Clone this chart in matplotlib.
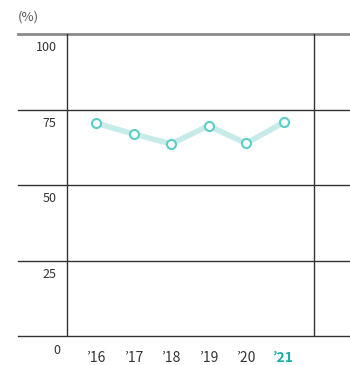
import matplotlib.pyplot as plt

plt.rcParams['font.family'] = ['Noto Sans CJK KR', 'DejaVu Sans']

years = ["\u201916", "\u201917", "\u201918", "\u201919", "\u201920", "\u201921"]
rates = [70.5, 66.9, 63.6, 69.6, 63.8, 70.7]
yticks = [0, 25, 50, 75, 100]

fig = plt.figure(figsize=(3.5, 3.65), dpi=100)
ax = fig.add_axes([18 / 350, 29 / 365, 332 / 350, 302 / 365])
ax.set_xlim(-2.08, 6.77)
ax.set_ylim(0, 100)
ax.axis('off')

# grid: top rule is grey and heavier, the rest dark
for v in yticks:
    if v == 100:
        ax.axhline(v, color='#8a8a8a', lw=2.0, zorder=1, clip_on=False)
    else:
        ax.axhline(v, color='#333333', lw=1.0, zorder=1, clip_on=False)
    if v == 0:
        ax.text(-0.95, -4.9, '0', ha='right', va='center',
                fontsize=9, color='#333333')
    else:
        ax.text(-1.05, v - 4.6, str(v), ha='right', va='center',
                fontsize=9, color='#333333')
ax.axvline(-0.773, color='#333333', lw=1.0, zorder=1)
ax.axvline(5.813, color='#333333', lw=1.0, zorder=1)

x = list(range(len(years)))
ax.plot(x, rates, color='#c6ebe8', lw=4, solid_capstyle='round', zorder=2)
ax.plot(x, rates, ls='none', marker='o', ms=6.5, mfc='white',
        mec='#5ccdc7', mew=1.5, zorder=3)

for i, lab in enumerate(years):
    last = i == len(years) - 1
    ax.text(i, -7.3, lab, ha='center', va='center', fontsize=10,
            color='#1aaea5' if last else '#333333',
            fontweight='bold' if last else 'normal')

fig.text(18 / 350, 1 - 17 / 365, '(%)', ha='left', va='center',
         fontsize=9.5, color='#555555')

fig.savefig('out.png', dpi=100)
